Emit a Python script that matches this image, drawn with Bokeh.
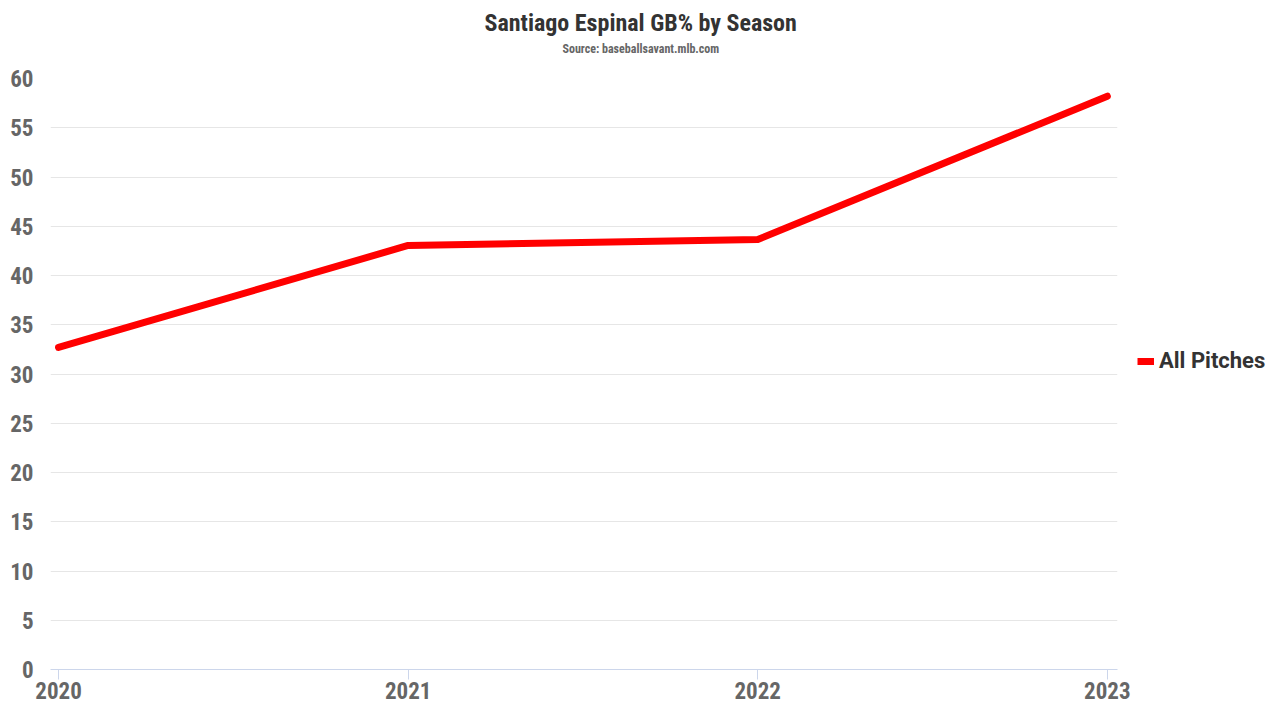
from bokeh.plotting import figure
from bokeh.layouts import row
from bokeh.models import Range1d, Title, Legend, LegendItem, FixedTicker
from bokeh.embed import file_html
from bokeh.resources import INLINE

seasons = [2020, 2021, 2022, 2023]
gb_pct = [32.7, 43.05, 43.65, 58.2]
y_ticks = [0, 5, 10, 15, 20, 25, 30, 35, 40, 45, 50, 55, 60]
title_text = "Santiago Espinal GB% by Season"
subtitle_text = "Source: baseballsavant.mlb.com"
series_name = "All Pitches"

FONT = "'Roboto Condensed', 'Liberation Sans Narrow', 'DejaVu Sans Condensed', sans-serif"
RED = "#ff0000"

p = figure(width=1137, height=720, output_backend="svg", toolbar_location=None,
           x_range=Range1d(2019.977, 2023.029), y_range=Range1d(0, 60),
           min_border_left=50, min_border_right=20, min_border_top=78, min_border_bottom=51)
p.outline_line_color = None
p.background_fill_color = "white"

r = p.line(seasons, gb_pct, line_color=RED, line_width=7, line_cap="round", line_join="round")

p.xaxis.ticker = FixedTicker(ticks=seasons)
p.yaxis.ticker = FixedTicker(ticks=y_ticks)
p.xaxis.axis_line_color = "#ccd6eb"
p.xaxis.major_tick_line_color = "#ccd6eb"
p.xaxis.major_tick_out = 10
p.xaxis.major_tick_in = 0
p.xaxis.minor_tick_line_color = None
p.xaxis.major_label_text_font = FONT
p.xaxis.major_label_text_font_style = "bold"
p.xaxis.major_label_text_font_size = "23px"
p.xaxis.major_label_text_color = "#666666"
p.xaxis.major_label_standoff = 2

p.yaxis.axis_line_color = None
p.yaxis.major_tick_line_color = None
p.yaxis.minor_tick_line_color = None
p.yaxis.major_label_text_font = FONT
p.yaxis.major_label_text_font_style = "bold"
p.yaxis.major_label_text_font_size = "23px"
p.yaxis.major_label_text_color = "#666666"
p.yaxis.major_label_standoff = 11

p.xgrid.grid_line_color = None
p.ygrid.grid_line_color = "#e6e6e6"
p.ygrid.grid_line_width = 1

p.add_layout(Title(text=subtitle_text, align="left", offset=512, text_font=FONT, text_font_style="bold",
                   text_font_size="12px", text_color="#666666", standoff=46), "above")
p.add_layout(Title(text=title_text, align="left", offset=434, text_font=FONT, text_font_style="bold",
                   text_font_size="24px", text_color="#333333", standoff=-40), "above")

# legend panel to the right of the plot (series drawn outside its view, used only for the legend key)
p2 = figure(width=143, height=720, output_backend="svg", toolbar_location=None,
            x_range=Range1d(0, 1), y_range=Range1d(0, 1),
            min_border_left=0, min_border_right=0, min_border_top=0, min_border_bottom=0)
p2.axis.visible = False
p2.grid.visible = False
p2.outline_line_color = None
r2 = p2.line(seasons, gb_pct, line_color=RED, line_width=7)
legend = Legend(items=[LegendItem(label=series_name, renderers=[r2])], location=(0, 296),
                border_line_color=None, background_fill_alpha=0,
                label_text_font="Roboto", label_text_font_style="bold",
                label_text_font_size="22px", label_text_color="#333333",
                glyph_width=17, glyph_height=10, label_standoff=5, padding=0, margin=0)
p2.add_layout(legend)

layout = row(p, p2)
open("out.html", "w").write(file_html(layout, INLINE))
